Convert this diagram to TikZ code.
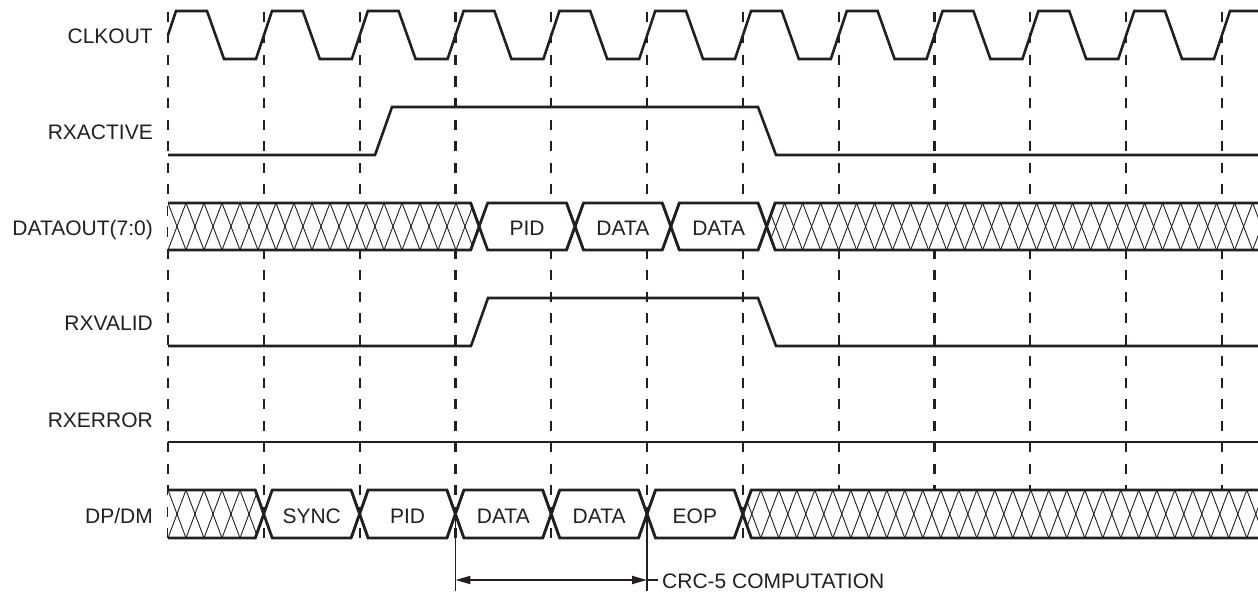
\documentclass[tikz,border=0pt]{standalone}
\usepackage{fontspec}
\setmainfont{Liberation Sans}
\usetikzlibrary{arrows.meta}
\definecolor{ink}{RGB}{35,31,32}
\newcommand\hh{8.5}
% closed bus segment: #1 left transition, #2 right transition, #3 top, #4 bottom
\newcommand\segfill[4]{\fill[white] (#1,{(#3+#4)/2}) -- ({#1+\hh},#3) -- ({#2-\hh},#3) -- (#2,{(#3+#4)/2}) -- ({#2-\hh},#4) -- ({#1+\hh},#4) -- cycle;}
\newcommand\segdraw[4]{%
  \draw[sig] ({#1-\hh},#4) -- ({#1+\hh},#3) -- ({#2-\hh},#3) -- ({#2+\hh},#4);
  \draw[sig] ({#1-\hh},#3) -- ({#1+\hh},#4) -- ({#2-\hh},#4) -- ({#2+\hh},#3);}
% hatched segment open on the left (starts at 168): #1 right transition, #2 top, #3 bottom
\newcommand\hatchleft[3]{%
  \begin{scope}
    \path[clip] (168,#2) -- ({#1-\hh},#2) -- (#1,{(#2+#3)/2}) -- ({#1-\hh},#3) -- (168,#3) -- cycle;
    \fill[white] (160,#2) rectangle (#1,#3);
    \foreach \i in {0,...,30} {
      \draw[hatchln] ({168+18*\i},#2) -- ({168+18*(\i+1)},#3);
      \draw[hatchln] ({168+18*\i},#3) -- ({168+18*(\i+1)},#2);
    }
  \end{scope}
  \draw[sig] (168,#2) -- ({#1-\hh},#2) -- ({#1+\hh},#3);
  \draw[sig] (168,#3) -- ({#1-\hh},#3) -- ({#1+\hh},#2);}
% hatched segment open on the right (ends at 1258): #1 left transition
\newcommand\hatchright[3]{%
  \begin{scope}
    \path[clip] (#1,{(#2+#3)/2}) -- ({#1+\hh},#2) -- (1258,#2) -- (1258,#3) -- ({#1+\hh},#3) -- cycle;
    \fill[white] (#1,#2) rectangle (1260,#3);
    \foreach \i in {0,...,30} {
      \draw[hatchln] ({#1+18*\i},#2) -- ({#1+18*(\i+1)},#3);
      \draw[hatchln] ({#1+18*\i},#3) -- ({#1+18*(\i+1)},#2);
    }
  \end{scope}
  \draw[sig] ({#1-\hh},#3) -- ({#1+\hh},#2) -- (1258,#2);
  \draw[sig] ({#1-\hh},#2) -- ({#1+\hh},#3) -- (1258,#3);}
\begin{document}
\begin{tikzpicture}[x=1pt,y=-1pt,
  sig/.style={draw=ink, line width=2.6pt, line join=miter},
  gridln/.style={draw=ink, line width=2.2pt, dash pattern=on 10pt off 11.5pt},
  hatchln/.style={draw=ink, line width=0.9pt},
  thinln/.style={draw=ink, line width=1.8pt},
  lbl/.style={anchor=base east, inner sep=0pt, text=ink, font=\fontsize{21}{25}\selectfont},
  boxlbl/.style={anchor=base, inner sep=0pt, text=ink, font=\fontsize{21}{25}\selectfont}]
\useasboundingbox (0,0) rectangle (1258,594);

% clock grid
\foreach \k in {0,...,11} { \draw[gridln] ({168+\k*95.8},12) -- ({168+\k*95.8},538); }

% labels
\node[lbl] (lclk) at (153,43.5) {CLKOUT};
\node[lbl] (lact) at (153,139.3) {RXACTIVE};
\node[lbl] (ldata) at (153,235) {DATAOUT(7:0)};
\node[lbl] (lvalid) at (153,330) {RXVALID};
\node[lbl] (lerr) at (153,427) {RXERROR};
\node[lbl] (ldp) at (153,523) {DP/DM};

% CLKOUT
\draw[sig] (168,35) -- (176,11)
  \foreach \k in {0,...,10} { -- ({168+\k*95.8+39},11) -- ({168+\k*95.8+56},59) -- ({168+\k*95.8+88},59) -- ({168+\k*95.8+104},11) }
  -- (1258,11);

% RXACTIVE
\draw[sig] (168,155) -- (375,155) -- (392,107) -- (758,107) -- (776,155) -- (1258,155);

% RXVALID
\draw[sig] (168,346) -- (471,346) -- (488,298) -- (758,298) -- (776,346) -- (1258,346);

% RXERROR
\draw[sig] (168,442) -- (1258,442);

% DATAOUT(7:0)
\hatchleft{479.2}{203}{250}
\segfill{479.2}{575}{203}{250}
\segfill{575}{670.8}{203}{250}
\segfill{670.8}{766.6}{203}{250}
\hatchright{766.6}{203}{250}
\segdraw{479.2}{575}{203}{250}
\segdraw{575}{670.8}{203}{250}
\segdraw{670.8}{766.6}{203}{250}
\node[boxlbl] (pid1) at (527.1,235) {PID};
\node[boxlbl] (data1) at (622.9,235) {DATA};
\node[boxlbl] (data2) at (718.7,235) {DATA};

% DP/DM
\hatchleft{263.8}{490}{538}
\segfill{263.8}{359.6}{490}{538}
\segfill{359.6}{455.4}{490}{538}
\segfill{455.4}{551.2}{490}{538}
\segfill{551.2}{647}{490}{538}
\segfill{647}{742.8}{490}{538}
\hatchright{742.8}{490}{538}
\segdraw{263.8}{359.6}{490}{538}
\segdraw{359.6}{455.4}{490}{538}
\segdraw{455.4}{551.2}{490}{538}
\segdraw{551.2}{647}{490}{538}
\segdraw{647}{742.8}{490}{538}
\node[boxlbl] (sync) at (311.7,523) {SYNC};
\node[boxlbl] (pid2) at (407.5,523) {PID};
\node[boxlbl] (data3) at (503.3,523) {DATA};
\node[boxlbl] (data4) at (599.1,523) {DATA};
\node[boxlbl] (eop) at (694.9,523) {EOP};

% CRC-5 computation span
\coordinate (cL) at (455.4,514);
\coordinate (cR) at (647,514);
\coordinate (cLb) at (455.4,591);
\coordinate (cRb) at (647,591);
\coordinate (aL) at (455.4,580);
\coordinate (aR) at (647,580);
\coordinate (aE) at (658,580);
\draw[thinln] (cL) -- (cLb);
\draw[thinln] (cR) -- (cRb);
\draw[thinln, {Triangle[length=15pt,width=8pt]}-{Triangle[length=15pt,width=8pt]}] (aL) -- (aR);
\draw[thinln] (aR) -- (aE);
\node[anchor=base west, inner sep=0pt, text=ink, font=\fontsize{21}{25}\selectfont] (crc) at (662,588) {CRC-5 COMPUTATION};
\end{tikzpicture}
\end{document}
